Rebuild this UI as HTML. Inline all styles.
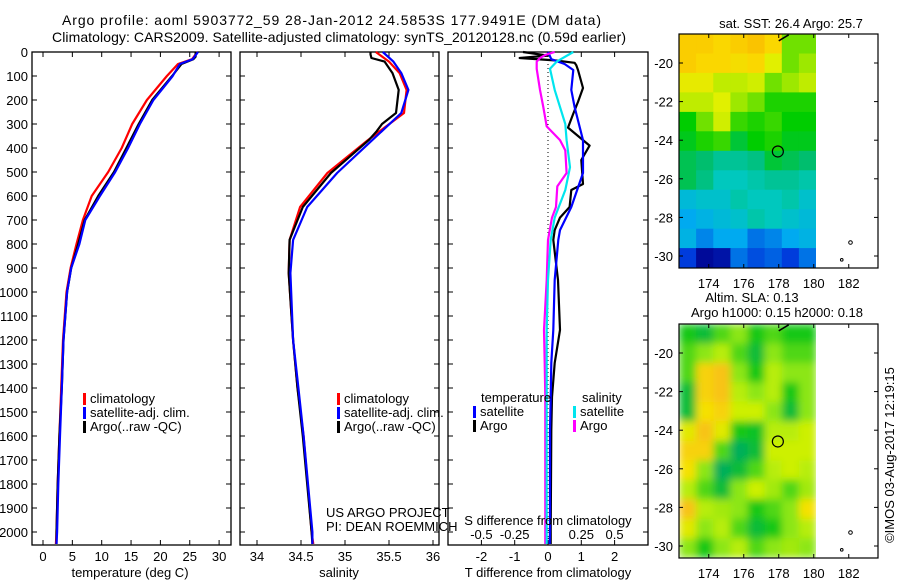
<!DOCTYPE html>
<html><head><meta charset="utf-8"><style>
body{margin:0;background:#fff;}
svg{display:block;font-family:"Liberation Sans",sans-serif;}
text{fill:#000;}
</style></head><body>
<svg id="chart" width="900" height="580" viewBox="0 0 900 580" xmlns="http://www.w3.org/2000/svg">
<text x="62" y="25" font-size="14" textLength="539" lengthAdjust="spacing">Argo profile: aoml 5903772_59 28-Jan-2012 24.5853S 177.9491E (DM data)</text>
<text x="52" y="42" font-size="14" textLength="574" lengthAdjust="spacing">Climatology: CARS2009. Satellite-adjusted climatology: synTS_20120128.nc (0.59d earlier)</text>
<g id="g"></g>
</svg>
<script>
// ---- data ----
const depthTicks = [0,100,200,300,400,500,600,700,800,900,1000,1100,1200,1300,1400,1500,1600,1700,1800,1900,2000];
const tempTicks = [0,5,10,15,20,25,30];
const salTicks = [34,34.5,35,35.5,36];
const salTickLabels = ["34","34.5","35","35.5","36"];
const dTTicks = [-2,-1,0,1,2];
const dSTicks = [-0.5,-0.25,0,0.25,0.5];
const dSTickLabels = ["-0.5","-0.25","0","0.25","0.5"];

const tClimDepth = [0,30,50,100,200,300,400,500,600,700,800,900,1000,1200,1400,1600,1800,2000,2050];
const tClim =      [26.3,25.4,23.0,21.1,17.7,15.2,13.4,11.1,8.3,6.8,5.7,4.7,4.0,3.4,3.1,2.8,2.5,2.3,2.2];
const tSatDepth =  [0,30,50,100,200,300,400,500,600,700,800,900,1000,1200,1400,1600,1800,2000,2050];
const tSat =       [26.4,25.5,23.3,22.1,18.8,16.5,14.5,12.3,9.7,7.2,6.2,4.8,4.1,3.5,3.2,2.9,2.6,2.4,2.3];
const tArgoDepth = [0,20,30,50,100,200,300,400,500,600,700,800,900,1000,1200,1400,1600,1800,2000,2050];
const tArgo =      [26.0,26.0,25.6,23.6,22.0,18.6,16.3,14.2,12.1,9.4,7.1,6.0,4.8,4.1,3.5,3.2,2.8,2.5,2.3,2.3];

const sClimDepth = [0,40,88,158,254,367,504,646,783,921,1200,1400,1600,2000,2050];
const sClim =      [35.35,35.5,35.62,35.70,35.67,35.26,34.80,34.49,34.37,34.36,34.41,34.46,34.53,34.62,34.64];
const sSatDepth =  [0,40,88,158,254,367,504,646,783,921,1200,1400,1600,2000,2050];
const sSat =       [35.43,35.55,35.64,35.72,35.64,35.31,34.91,34.57,34.41,34.38,34.41,34.47,34.53,34.63,34.63];
const sArgoDepth = [0,10,25,40,88,158,254,300,330,367,504,646,783,921,1200,1400,1600,2000,2050];
const sArgo =      [35.29,35.29,35.3,35.45,35.54,35.61,35.58,35.42,35.36,35.27,34.84,34.52,34.37,34.36,34.41,34.46,34.52,34.62,34.63];

const dTSatDepth = [0,30,50,75,158,229,367,504,646,742,783,950,1158,1296,1437,1575,1992,2050];
const dTSat =      [0,0.1,0.5,0.76,0.7,0.8,1.05,1.05,0.7,0.36,0.31,0.2,0.16,0.1,0.08,0.06,0.06,0.05];
const dTArgoDepth = [0,15,25,35,45,55,75,150,208,260,315,390,450,550,575,646,690,742,783,950,1158,1296,1437,1575,1992,2050];
const dTArgo =      [-0.75,0,-0.85,0.2,0.8,0.85,0.9,1.05,0.9,0.75,0.6,1.25,1.0,1.05,0.7,0.65,0.36,0.2,0.16,0.3,0.36,0.2,0.12,0.1,0.08,0.08];
const dSSatDepth = [0,40,70,158,300,367,480,575,690,783,950,1158,1296,1437,1992,2050];
const dSSat =      [0.19,0.065,0.015,0.05,0.13,0.14,0.165,0.13,0.05,0.02,0.0,-0.01,-0.01,-0.01,-0.01,-0.01];
const dSArgoDepth = [0,12,25,40,70,158,229,310,367,410,504,560,646,690,783,950,1158,1296,1437,1992,2050];
const dSArgo =      [0.05,-0.02,-0.06,-0.085,-0.085,-0.06,-0.035,-0.01,0.09,0.13,0.14,0.07,0.06,0.03,0.0,-0.01,-0.03,-0.025,-0.02,-0.02,-0.02];

const lonTicks = [174,176,178,180,182];
const latTicks = [-20,-22,-24,-26,-28,-30];
const floatLon = 177.9491, floatLat = -24.5853;
const sstGrid = [
 [26.9,26.9,26.8,26.9,27.0,26.8,25.8,25.8],
 [26.9,26.8,26.8,26.7,26.8,26.4,25.8,26.0],
 [26.5,26.5,26.2,26.2,26.3,25.8,26.0,26.2],
 [26.2,26.2,26.4,26.0,25.8,25.5,25.5,25.5],
 [25.4,25.8,26.3,25.6,25.5,25.6,25.4,25.4],
 [25.3,25.5,25.6,25.2,25.4,25.5,25.3,25.3],
 [25.1,25.0,24.8,24.8,24.9,25.2,25.1,25.0],
 [25.1,24.9,24.6,24.6,24.7,24.8,24.8,24.7],
 [24.4,24.5,24.5,24.7,24.6,24.6,24.7,24.5],
 [24.2,24.3,24.4,24.5,24.7,24.6,24.5,24.4],
 [24.3,24.0,24.2,24.2,23.9,24.0,24.2,24.3],
 [23.6,23.1,23.2,23.9,23.7,23.8,23.6,23.9]];
const slaGrid = [
 [.4,.3,.5,.6,.4,.5,.4,.4],
 [.5,.6,.7,.5,.3,.6,.5,.5],
 [.5,.9,.95,.6,.4,.7,.6,.6],
 [.3,.9,.95,.7,.6,.7,.4,.6],
 [.3,.85,.9,.75,.75,.6,.3,.6],
 [.8,.95,.8,.4,.35,.7,.7,.75],
 [.9,.9,.5,.2,.3,.75,.75,.75],
 [.85,.6,.2,.3,.5,.7,.75,.7],
 [.7,.5,.3,.6,.75,.65,.5,.65],
 [.95,.7,.65,.6,.4,.5,.6,.85],
 [.8,.6,.7,.5,.3,.4,.6,.7],
 [.6,.4,.6,.7,.5,.6,.65,.6]];

// ---- drawing ----
const NS="http://www.w3.org/2000/svg";
const G=document.getElementById('g');
function el(tag,attrs,parent){const e=document.createElementNS(NS,tag);for(const k in attrs)e.setAttribute(k,attrs[k]);(parent||G).appendChild(e);return e;}
function txt(s,attrs,parent){const e=el('text',attrs,parent);e.textContent=s;return e;}
const yD=d=>52+d*0.24;
const PT=52, PB=545;

function panel(x0,x1,xf,ticks,labels,name){
  const g=el('g',{});
  
  
  const r=el('rect',{x:x0,y:PT,width:x1-x0,height:PB-PT,fill:'none',stroke:'#000','stroke-width':1.3},g);
  
  
  depthTicks.forEach(d=>{el('line',{x1:x0,x2:x0+5,y1:yD(d),y2:yD(d),stroke:'#000'},g);el('line',{x1:x1,x2:x1-5,y1:yD(d),y2:yD(d),stroke:'#000'},g);});
  ticks.forEach((v,i)=>{const x=xf(v);el('line',{x1:x,x2:x,y1:PT,y2:PT+5,stroke:'#000'},g);el('line',{x1:x,x2:x,y1:PB,y2:PB-5,stroke:'#000'},g);
    if(labels){const t=txt(labels[i],{x:x,y:561,'font-size':13,'text-anchor':'middle'},g);
      
      }});
  return g;
}
function line(xs,ds,xf,color,name,w){
  const pts=xs.map((v,i)=>xf(v).toFixed(1)+','+yD(ds[i]).toFixed(1)).join(' ');
  const p=el('polyline',{points:pts,fill:'none',stroke:color,'stroke-width':w||2.2,'stroke-linejoin':'round'});
  
  
}
function legend(x,y,items,prefix){
  items.forEach((it,i)=>{
    const b=el('rect',{x:x,y:y+i*14-10,width:3,height:12,fill:it[1]});
    
    
    const t=txt(it[0],{x:x+7,y:y+i*14,'font-size':13});
    
    
  });
}

// panel 1 temperature
const xT=v=>43+v*5.87;
panel(32,231,xT,tempTicks,tempTicks.map(String),'temperature-panel');
depthTicks.forEach(d=>{const t=txt(String(d),{x:28,y:yD(d)+5,'font-size':13,'text-anchor':'end'});
  
  });
line(tClim,tClimDepth,xT,'#ff0000','temp-climatology-line');
line(tArgo,tArgoDepth,xT,'#000','temp-argo-line');
line(tSat,tSatDepth,xT,'#0000ff','temp-satellite-line');
legend(83,403,[['climatology','#f00'],['satellite-adj. clim.','#00f'],['Argo(..raw -QC)','#000']],'temp-legend');
{const t=txt('temperature (deg C)',{x:130,y:577,'font-size':13,'text-anchor':'middle'});

}

// panel 2 salinity
const xS=v=>257+(v-34)*88;
panel(240,439,xS,salTicks,salTickLabels,'salinity-panel');
line(sClim,sClimDepth,xS,'#ff0000','sal-climatology-line');
line(sArgo,sArgoDepth,xS,'#000','sal-argo-line');
line(sSat,sSatDepth,xS,'#0000ff','sal-satellite-line');
legend(337,403,[['climatology','#f00'],['satellite-adj. clim.','#00f'],['Argo(..raw -QC)','#000']],'sal-legend');
{const t=txt('salinity',{x:339,y:577,'font-size':13,'text-anchor':'middle'});

}
{const t=txt('US ARGO PROJECT',{x:326,y:517,'font-size':13});


const t2=txt('PI: DEAN ROEMMICH',{x:326,y:531,'font-size':13});

}

// panel 3 differences
const xdT=v=>548+v*33.3;
const xdS=v=>548+v*133.2;
panel(448,648,xdT,dTTicks,dTTicks.map(String),'difference-panel');
{const zl=el('line',{x1:548,x2:548,y1:PT,y2:PB,stroke:'#000','stroke-dasharray':'1,3'});

}
dSTicks.forEach((v,i)=>{const t=txt(dSTickLabels[i],{x:xdS(v),y:539,'font-size':13,'text-anchor':'middle'});
  
  });
line(dTArgo,dTArgoDepth,xdT,'#000','dT-argo-line');
line(dTSat,dTSatDepth,xdT,'#0000ff','dT-satellite-line');
line(dSArgo,dSArgoDepth,xdS,'#ff00ff','dS-argo-line');
line(dSSat,dSSatDepth,xdS,'#00e5ee','dS-satellite-line');
{const t=txt('temperature',{x:481,y:402,'font-size':13});


const t2=txt('salinity',{x:582,y:402,'font-size':13});

}
legend(473,416,[['satellite','#00f'],['Argo','#000']],'dT-legend');
legend(573,416,[['satellite','#00e5ee'],['Argo','#f0f']],'dS-legend');
{const t=txt('S difference from climatology',{x:548,y:525,'font-size':13,'text-anchor':'middle'});


const t2=txt('T difference from climatology',{x:548,y:577,'font-size':13,'text-anchor':'middle'});

}

// maps
const xL=lon=>679+(lon-172.3)*17.5;
function sstColor(v){
  const stops=[[23.0,[0,0,140]],[23.6,[0,60,220]],[24.2,[0,170,240]],[24.6,[0,200,190]],[25.0,[0,190,110]],[25.4,[0,205,0]],[25.9,[140,230,0]],[26.4,[225,240,0]],[26.8,[250,215,0]],[27.1,[250,185,0]]];
  return interp(stops,v);}
function slaColor(v){
  const stops=[[0.2,[0,175,90]],[0.4,[20,200,20]],[0.6,[140,230,20]],[0.75,[205,240,0]],[0.85,[245,225,0]],[1.0,[250,180,30]]];
  return interp(stops,v);}
function interp(stops,v){
  if(v<=stops[0][0])return 'rgb('+stops[0][1]+')';
  for(let i=1;i<stops.length;i++){if(v<=stops[i][0]){const a=stops[i-1],b=stops[i],f=(v-a[0])/(b[0]-a[0]);
    return 'rgb('+a[1].map((c,k)=>Math.round(c+(b[1][k]-c)*f)).join(',')+')';}}
  return 'rgb('+stops[stops.length-1][1]+')';}

function map(y0,grid,colorFn,name,blur){
  const yL=lat=>y0+28+(-20-lat)*19.3;
  const g=el('g',{});
  
  
  const top=y0-1, bot=y0+233;
  const gx0=679, gx1=816, rows=grid.length, cols=grid[0].length;
  const cw=(gx1-gx0)/cols, ch=(yL(-30.6)-top)/rows;
  const cp=el('clipPath',{id:'clip'+name},g);
  el('rect',{x:gx0,y:top,width:gx1-gx0,height:yL(-30.6)-top},cp);
  const outer=el('g',{'clip-path':'url(#clip'+name+')'},g);
  const inner=el('g',blur?{filter:'url(#blur)'}:{},outer);
  grid.forEach((row,r)=>row.forEach((v,c)=>{
    const cell=el('rect',{x:(gx0+c*cw).toFixed(1),y:(top+r*ch).toFixed(1),width:(cw+0.6).toFixed(1),height:(ch+0.6).toFixed(1),fill:colorFn(v)},inner);
    
    
  }));
  const fr=el('rect',{x:679,y:top,width:199,height:bot-top,fill:'none',stroke:'#000','stroke-width':1.2},g);
  
  
  lonTicks.forEach(l=>{const x=xL(l);el('line',{x1:x,x2:x,y1:top,y2:top+4,stroke:'#000'},g);el('line',{x1:x,x2:x,y1:bot,y2:bot-4,stroke:'#000'},g);
    const t=txt(String(l),{x:x,y:bot+20,'font-size':13,'text-anchor':'middle'},g);
    
    });
  latTicks.forEach(l=>{const y=yL(l);el('line',{x1:679,x2:683,y1:y,y2:y,stroke:'#000'},g);el('line',{x1:878,x2:874,y1:y,y2:y,stroke:'#000'},g);
    const t=txt(String(l),{x:673,y:y+5,'font-size':13,'text-anchor':'end'},g);
    
    });
  const c=el('circle',{cx:xL(floatLon),cy:yL(floatLat),r:5.5,fill:'none',stroke:'#000','stroke-width':1.2},g);
  
  
  el('path',{d:`M${xL(178)} ${yL(-18.85)} l10 -6`,stroke:'#000','stroke-width':1.5,fill:'none'},g);
  el('circle',{cx:xL(182.1),cy:yL(-29.3),r:1.8,fill:'none',stroke:'#000'},g);
  el('circle',{cx:xL(181.6),cy:yL(-30.2),r:1.3,fill:'none',stroke:'#000'},g);
}
el('defs',{}).innerHTML='<filter id="blur" x="-0.2" y="-0.2" width="1.4" height="1.4"><feGaussianBlur stdDeviation="4" edgeMode="duplicate"/></filter>';
map(35,sstGrid,sstColor,'sst-map',false);
map(325,slaGrid,slaColor,'sla-map',true);
{const t=txt('sat. SST: 26.4  Argo: 25.7',{x:791,y:28,'font-size':13,'text-anchor':'middle'});


const t2=txt('Altim. SLA: 0.13',{x:752,y:302,'font-size':13,'text-anchor':'middle'});


const t3=txt('Argo h1000: 0.15 h2000: 0.18',{x:777,y:317,'font-size':13,'text-anchor':'middle'});


const t4=txt('©IMOS 03-Aug-2017 12:19:15',{x:0,y:0,'font-size':13,'text-anchor':'middle',transform:'translate(894,455) rotate(-90)'});

}
</script>
</body></html>
